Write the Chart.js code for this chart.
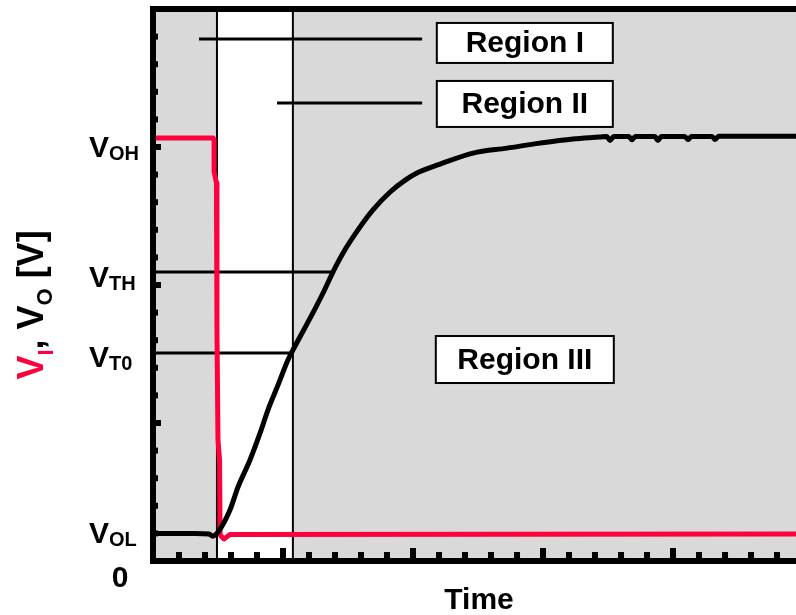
<!DOCTYPE html>
<html>
<head>
<meta charset="utf-8">
<title>Inverter switching</title>
<script src="https://cdn.jsdelivr.net/npm/chart.js@4"></script>
<style>
  html, body { margin: 0; padding: 0; background: #fff; }
  #wrap { width: 796px; height: 615px; position: relative; }
</style>
</head>
<body>
<div id="wrap"><canvas id="chart"></canvas></div>
<script>
// time runs in tick steps, voltage in minor-tick steps
const xMax = 24.73;
const yMax = 20;

// input trace V_I
const viX = [0, 2.31, 2.35, 2.35, 2.44, 2.46, 2.5, 2.56, 2.58, 2.73, 2.96, 24.73];
const viY = [15.33, 15.33, 15.26, 14.1, 13.7, 8.37, 4.38, 3.66, 0.94, 0.8, 0.96, 0.98];

// output trace V_O
const voX = [0, 1.62, 2.15, 2.3, 2.5, 2.96, 3.27, 3.73, 4.12, 4.42, 4.81, 5.19, 5.38,
  6.15, 6.54, 6.92, 7.31, 7.85, 8.46, 9.12, 9.7, 10.15, 11.04, 12.31, 13.62, 14.88,
  16.15, 17.19, 17.45, 17.58, 17.72, 18.3, 18.42, 18.55, 19.3, 19.42, 19.55,
  20.45, 20.58, 20.7, 21.5, 21.62, 21.75, 24.73];
const voY = [1.0, 1.0, 0.98, 0.9, 1.05, 1.85, 2.68, 3.66, 4.64, 5.47, 6.38, 7.28, 7.64,
  8.99, 9.71, 10.47, 11.16, 11.95, 12.72, 13.37, 13.8, 14.06, 14.38, 14.78, 14.96, 15.14,
  15.29, 15.36, 15.38, 15.24, 15.38, 15.38, 15.26, 15.38, 15.38, 15.24, 15.38,
  15.38, 15.27, 15.38, 15.38, 15.27, 15.39, 15.39];

// voltage levels marked on the axis
const levelNames = ['OH', 'TH', 'T0', 'OL'];
const levelValues = [15.36, 10.47, 7.54, 1.0];

// threshold guide lines: level and where they meet the output trace
const guideLevels = [10.47, 7.54];
const guideEnds = [6.92, 5.31];

// region borders on the time axis and the label pointers
const regionEdges = [2.46, 5.38];
const regionNames = ['Region I', 'Region II', 'Region III'];
const pointerStarts = [1.77, 4.77];
const pointerEnd = 10.35;
const pointerLevels = [18.91, 16.59];

const RED = '#ff003f';
const FONT = '"Liberation Sans", Arial, sans-serif';

const pts = (xs, ys) => xs.map((v, i) => ({ x: v, y: ys[i] }));
const seg = (x0, y0, x1, y1) => [{ x: x0, y: y0 }, { x: x1, y: y1 }];

function thinLine(data, width) {
  return { data, borderColor: '#000', borderWidth: width, order: 2 };
}

const datasets = [
  { data: pts(voX, voY), borderColor: '#000', borderWidth: 5, order: 0,
    cubicInterpolationMode: 'monotone' },
  { data: pts(viX, viY), borderColor: RED, borderWidth: 5, order: 1 }
];
regionEdges.forEach(e => datasets.push(thinLine(seg(e, 0, e, yMax), 2)));
guideLevels.forEach((g, i) => datasets.push(thinLine(seg(0, g, guideEnds[i], g), 3)));
pointerLevels.forEach((p, i) => datasets.push(thinLine(seg(pointerStarts[i], p, pointerEnd, p), 3)));

// text made of runs: [text, size, colour, baseline shift]
function drawRuns(ctx, runs, x, y) {
  let cx = x;
  runs.forEach(([t, size, color, shift]) => {
    ctx.font = `bold ${size}px ${FONT}`;
    ctx.fillStyle = color;
    ctx.fillText(t, cx, y + shift);
    cx += ctx.measureText(t).width;
  });
}
function runsWidth(ctx, runs) {
  return runs.reduce((w, [t, size]) => {
    ctx.font = `bold ${size}px ${FONT}`;
    return w + ctx.measureText(t).width;
  }, 0);
}

const backdrop = {
  id: 'backdrop',
  beforeDatasetsDraw(chart) {
    const { ctx, chartArea: a, scales: { x } } = chart;
    ctx.save();
    ctx.fillStyle = '#d9d9d9';
    ctx.fillRect(a.left, a.top, a.right - a.left, a.bottom - a.top);
    const x0 = x.getPixelForValue(regionEdges[0]);
    const x1 = x.getPixelForValue(regionEdges[1]);
    ctx.fillStyle = '#fff';
    ctx.fillRect(x0, a.top, x1 - x0, a.bottom - a.top);
    ctx.restore();
  }
};

const frame = {
  id: 'frame',
  afterDatasetsDraw(chart) {
    const { ctx, chartArea: a, scales: { x, y } } = chart;
    ctx.save();
    ctx.fillStyle = '#000';
    // inward ticks, longer every fifth
    for (let i = 1; i < xMax; i++) {
      const px = x.getPixelForValue(i);
      const len = i % 5 === 0 ? 13 : 9;
      ctx.fillRect(px - 3, a.bottom - len, 6, len);
    }
    for (let j = 1; j < yMax; j++) {
      const py = y.getPixelForValue(j);
      const len = j % 5 === 0 ? 8 : 5;
      ctx.fillRect(a.left, py - 3, len, 6);
    }
    // heavy frame on left, top and bottom
    ctx.fillRect(a.left - 3, a.top - 3, a.right - a.left + 3, 6);
    ctx.fillRect(a.left - 3, a.bottom - 3, a.right - a.left + 3, 6);
    ctx.fillRect(a.left - 3, a.top - 3, 6, a.bottom - a.top + 6);

    // region label boxes
    const boxes = [
      { cx: 14.3, cy: 18.77, w: 176, h: 40 },
      { cx: 14.3, cy: 16.56, w: 176, h: 46 },
      { cx: 14.3, cy: 7.3, w: 178, h: 47 }
    ];
    ctx.textAlign = 'center';
    ctx.textBaseline = 'middle';
    boxes.forEach((b, i) => {
      const px = x.getPixelForValue(b.cx);
      const py = y.getPixelForValue(b.cy);
      ctx.fillStyle = '#fff';
      ctx.fillRect(px - b.w / 2, py - b.h / 2, b.w, b.h);
      ctx.lineWidth = 2;
      ctx.strokeStyle = '#000';
      ctx.strokeRect(px - b.w / 2, py - b.h / 2, b.w, b.h);
      ctx.fillStyle = '#000';
      ctx.font = `bold 30px ${FONT}`;
      ctx.fillText(regionNames[i], px, py + 1);
    });
    ctx.restore();
  },
  afterDraw(chart) {
    const { ctx, chartArea: a, scales: { y } } = chart;
    ctx.save();
    ctx.textBaseline = 'alphabetic';
    ctx.textAlign = 'left';
    // level labels V_OH, V_TH, V_T0, V_OL
    const drop = [20, 15, 14, 10];
    levelNames.forEach((n, i) => {
      const py = y.getPixelForValue(levelValues[i]) + drop[i];
      drawRuns(ctx, [['V', 30, '#000', 0], [n, 20, '#000', 3]], 89, py);
    });
    ctx.textAlign = 'center';
    ctx.font = `bold 30px ${FONT}`;
    ctx.fillStyle = '#000';
    ctx.fillText('0', 120, a.bottom + 26);
    ctx.fillText('Time', 479, 609);

    // vertical axis title
    ctx.textAlign = 'left';
    const runs = [
      ['V', 36, RED, 0], ['I', 22, RED, 10],
      [', V', 36, '#000', 0], ['O', 22, '#000', 9],
      [' [V]', 36, '#000', 0]
    ];
    const w = runsWidth(ctx, runs);
    ctx.translate(43, 305 + w / 2);
    ctx.rotate(-Math.PI / 2);
    drawRuns(ctx, runs, 0, 0);
    ctx.restore();
  }
};

new Chart(document.getElementById('chart'), {
  type: 'line',
  data: { datasets },
  options: {
    responsive: true,
    maintainAspectRatio: false,
    animation: false,
    layout: { padding: { left: 153, top: 9, right: 0, bottom: 54 } },
    elements: {
      point: { radius: 0 },
      line: { tension: 0, fill: false, borderJoinStyle: 'round' }
    },
    scales: {
      x: { type: 'linear', min: 0, max: xMax, display: false },
      y: { type: 'linear', min: 0, max: yMax, display: false }
    },
    plugins: { legend: { display: false }, tooltip: { enabled: false } }
  },
  plugins: [backdrop, frame]
});
</script>
</body>
</html>
